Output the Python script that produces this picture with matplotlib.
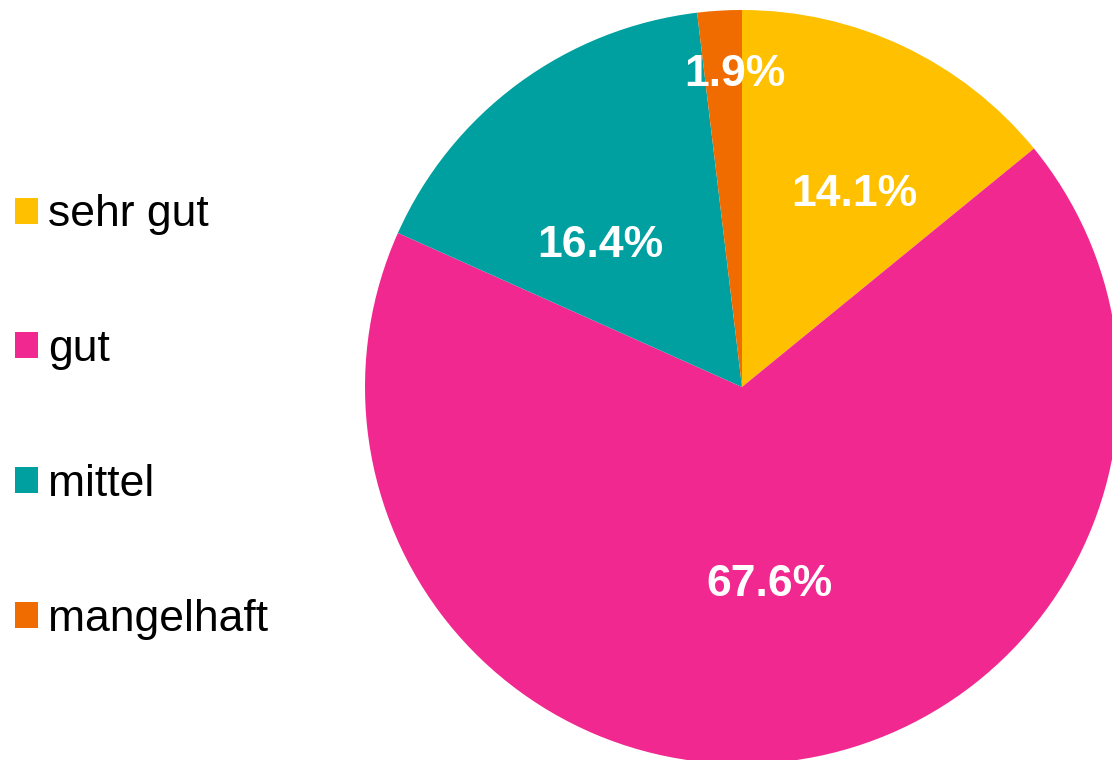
import matplotlib
matplotlib.use("Agg")
import matplotlib.pyplot as plt
import numpy as np
from matplotlib.patches import Patch

categories = ["sehr gut", "gut", "mittel", "mangelhaft"]
values = [14.1, 67.6, 16.4, 1.9]
colors = ["#FFC000", "#F0288F", "#00A0A0", "#F06C00"]
# label placement: fraction of radius and angular shift from the wedge bisector (deg)
label_dist = [0.602, 0.517, 0.538, 0.841]
label_shift = [-4.4, 0.4, 8.0, -2.1]

plt.rcParams['font.family'] = ['Liberation Sans', 'DejaVu Sans']

fig = plt.figure(figsize=(11.12, 7.6), dpi=100)
W, H = 1112, 760
cx, cy, r = 742, 387, 377
ax = fig.add_axes([(cx - r) / W, (H - cy - r) / H, 2 * r / W, 2 * r / H])
wedges, _ = ax.pie(values, colors=colors, startangle=90, counterclock=False,
                   radius=1, wedgeprops=dict(linewidth=0))
ax.set_xlim(-1, 1)
ax.set_ylim(-1, 1)
ax.set_aspect('equal')
ax.axis('off')

for w, v, d, s in zip(wedges, values, label_dist, label_shift):
    ang = np.deg2rad((w.theta1 + w.theta2) / 2 + s)
    ax.text(d * np.cos(ang), d * np.sin(ang) - 4 / r, f"{v:.1f}%", ha='center', va='center',
            color='white', fontsize=32, fontweight='bold')

handles = [Patch(facecolor=c, edgecolor='none') for c in colors]
fig.legend(handles, categories, loc='center left', bbox_to_anchor=(15 / W, 1 - 417 / H),
           frameon=False, fontsize=32, handlelength=0.52, handleheight=0.52,
           handletextpad=0.22, labelspacing=2.11, borderpad=0, borderaxespad=0)

fig.savefig("out.png", dpi=100)
